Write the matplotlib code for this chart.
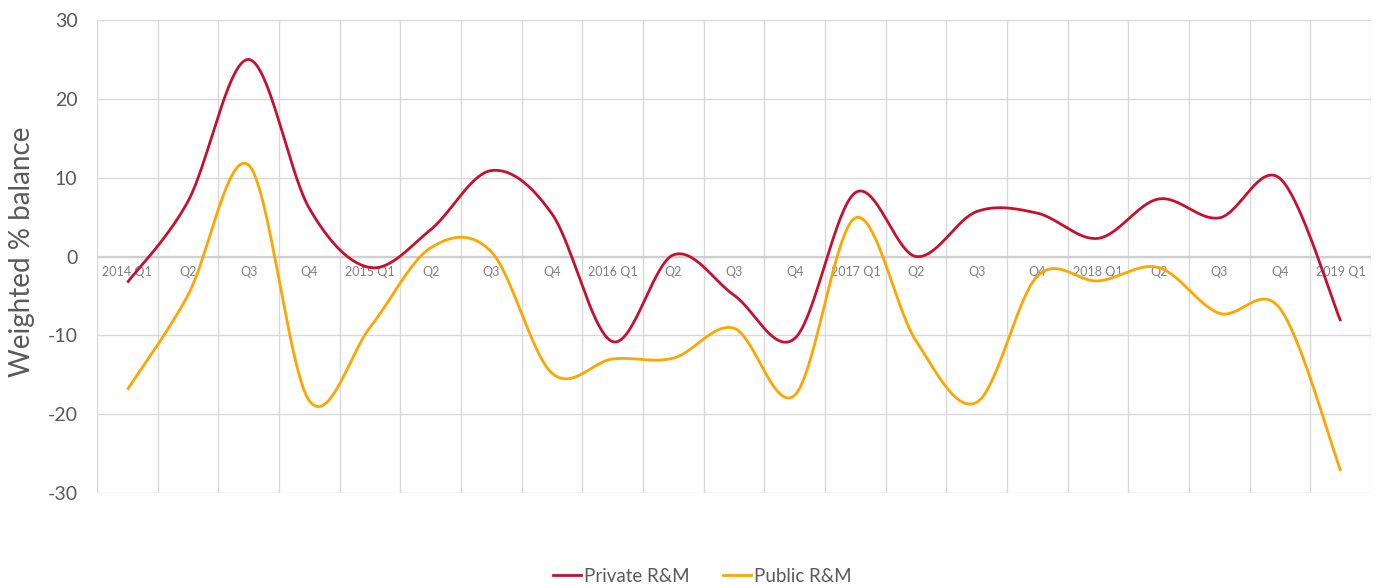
import numpy as np
import matplotlib
matplotlib.use("Agg")
import matplotlib.pyplot as plt
from matplotlib.lines import Line2D

categories = ["2014 Q1", "Q2", "Q3", "Q4",
              "2015 Q1", "Q2", "Q3", "Q4",
              "2016 Q1", "Q2", "Q3", "Q4",
              "2017 Q1", "Q2", "Q3", "Q4",
              "2018 Q1", "Q2", "Q3", "Q4",
              "2019 Q1"]
private_rm = [-3.3, 7.0, 25.0, 6.1, -1.4, 3.4, 10.9, 5.4, -10.8, 0.2, -4.9, -10.4,
              8.1, 0.0, 5.7, 5.5, 2.3, 7.3, 4.9, 9.9, -8.2]
public_rm = [-16.9, -4.9, 11.6, -18.3, -9.0, 1.1, 0.6, -14.8, -13.0, -12.9, -9.1, -17.6,
             4.9, -10.7, -18.5, -2.5, -3.1, -1.4, -7.2, -6.6, -27.2]
series_names = ["Private R&M", "Public R&M"]
series_colors = ["#C8102E", "#FFA500"]
y_ticks = [-30, -20, -10, 0, 10, 20, 30]

plt.rcParams['font.family'] = ['Lato', 'DejaVu Sans']


def excel_smooth(xs, ys, n=40):
    xs = np.asarray(xs, float)
    ys = np.asarray(ys, float)
    P = np.column_stack([xs, ys])
    out = [P[0]]
    m = len(P)
    t = np.linspace(0, 1, n)[1:, None]
    for i in range(m - 1):
        p0 = P[i - 1] if i > 0 else P[i]
        p1 = P[i]
        p2 = P[i + 1]
        p3 = P[i + 2] if i + 2 < m else P[i + 1]
        c1 = p1 + (p2 - p0) / 6.0
        c2 = p2 - (p3 - p1) / 6.0
        seg = ((1 - t) ** 3) * p1 + 3 * ((1 - t) ** 2) * t * c1 + 3 * (1 - t) * t ** 2 * c2 + t ** 3 * p2
        out.extend(seg)
    out = np.array(out)
    return out[:, 0], out[:, 1]


W, H = 1379, 586
fig = plt.figure(figsize=(W / 100, H / 100), dpi=100)
ax = fig.add_axes([97 / W, 1 - 493 / H, (1371 - 97) / W, (493 - 20) / H])

x = np.arange(len(categories))
grid_c = "#D9D9D9"
for v in y_ticks:
    ax.axhline(v, color=grid_c, lw=1.0, zorder=0)
for b in np.arange(len(categories) + 1) - 0.5:
    ax.axvline(b, color=grid_c, lw=1.0, zorder=0)
ax.axhline(0, color="#D0D0D0", lw=1.6, zorder=0.5)

for vals, c in zip([private_rm, public_rm], series_colors):
    sx, sy = excel_smooth(x, vals)
    ax.plot(sx, sy, color=c, lw=2.0, solid_capstyle='butt', zorder=3)

ax.set_xlim(-0.5, len(categories) - 0.5)
ax.set_ylim(-30, 30)
ax.set_yticks(y_ticks)
ax.set_yticklabels([str(v) for v in y_ticks], fontsize=14, color="#595959")
ax.tick_params(axis='y', length=0, pad=14)
ax.set_xticks([])
for s in ax.spines.values():
    s.set_visible(False)

for i, lab in enumerate(categories):
    ax.text(i, -2.0, lab, ha='center', va='center', fontsize=9, color="#808080",
            zorder=2)

fig.text(22 / W, 1 - 252 / H, "Weighted % balance", rotation=90, ha='center', va='center',
         fontsize=20, color="#595959")

handles = [Line2D([0], [0], color=c, lw=2.0) for c in series_colors]
fig.legend(handles, series_names, loc='center', bbox_to_anchor=(702 / W, 1 - 576 / H),
           ncol=2, frameon=False, fontsize=13.5, handlelength=1.5, handletextpad=0.15,
           columnspacing=1.8, labelcolor="#595959")

fig.savefig("out.png", dpi=100)
